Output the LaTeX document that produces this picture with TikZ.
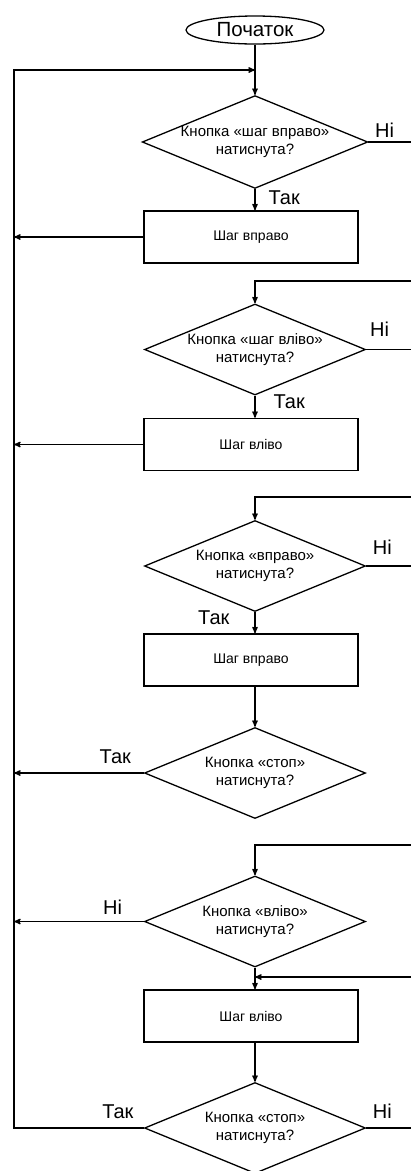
\documentclass[tikz,border=0pt]{standalone}
\usepackage{fontspec}
\setmainfont{Liberation Sans}
\usetikzlibrary{arrows,shapes.geometric}

\begin{document}
\begin{tikzpicture}[x=1pt,y=-1pt,>=stealth',line width=1.3pt]
  \tikzstyle{terminal}=[ellipse,draw,minimum width=138pt,minimum height=28pt,inner sep=0pt,font=\fontsize{20.5}{22}\selectfont]
  \tikzstyle{decision}=[diamond,draw,aspect=2.43,minimum width=221pt,minimum height=91pt,inner sep=0pt,align=center,font=\fontsize{15}{18.3}\selectfont]
  \tikzstyle{block}=[rectangle,draw,minimum width=214pt,minimum height=52pt,font=\fontsize{14}{16}\selectfont]
  \tikzstyle{lbl}=[font=\fontsize{20}{22}\selectfont,inner sep=2pt]

  \useasboundingbox (0,0) rectangle (411,1171);

  \node[terminal] (start) at (255,30)    {Початок};
  \node[decision] (d1)    at (255,142)   {Кнопка «шаг вправо»\\натиснута?};
  \node[block]    (b1)    at (251,237)   {Шаг вправо};
  \node[decision] (d2)    at (255,349.5) {Кнопка «шаг вліво»\\натиснута?};
  \node[block]    (b2)    at (251,444.5) {Шаг вліво};
  \node[decision] (d3)    at (255,566)   {Кнопка «вправо»\\натиснута?};
  \node[block]    (b3)    at (251,660)   {Шаг вправо};
  \node[decision] (d4)    at (255,773)   {Кнопка «стоп»\\натиснута?};
  \node[decision] (d5)    at (255,921.5) {Кнопка «вліво»\\натиснута?};
  \node[block]    (b4)    at (251,1016)  {Шаг вліво};
  \node[decision] (d6)    at (255,1128)  {Кнопка «стоп»\\натиснута?};

  \coordinate (ltop)  at (14,70);
  \coordinate (redge) at (411,0);
  \coordinate (r2)    at (411,281);
  \coordinate (r3)    at (411,497);
  \coordinate (r5)    at (411,845);
  \coordinate (r4)    at (411,977);

  % main loop on the left
  \draw[->] (start) -- (d1);
  \draw[->] (d6.west) -- node[lbl,above=6.8pt,pos=.2] {Так} (d6.west -| ltop) -- (ltop) -- (ltop -| start);

  % step right
  \draw[->] (d1.south) -- node[lbl,right=11pt,pos=.4] {Так} (d1.south |- b1.north);
  \draw (d1.east) -- node[lbl,above=1.8pt,pos=.38] {Ні} (d1.east -| redge);
  \draw[->] (b1.west) -- (b1.west -| ltop);

  % step left
  \draw[->] (r2) -| (d2.north);
  \draw[->] (d2.south) -- node[lbl,right=16pt,pos=.26] {Так} (d2.south |- b2.north);
  \draw (d2.east) -- node[lbl,above=10.3pt,pos=.3] {Ні} (d2.east -| redge);
  \draw[->] (b2.west) -- (b2.west -| ltop);

  % move right until stop
  \draw[->] (r3) -| (d3.north);
  \draw[->] (d3.south) -- node[lbl,left=23pt,pos=.25] {Так} (d3.south |- b3.north);
  \draw (d3.east) -- node[lbl,above=8.8pt,pos=.36] {Ні} (d3.east -| redge);
  \draw[->] (b3.south -| d4.north) -- (d4.north);
  \draw[->] (d4.west) -- node[lbl,above=6.8pt,pos=.22] {Так} (d4.west -| ltop);

  % move left until stop
  \draw[->] (r5) -| (d5.north);
  \draw[->] (d5.west) -- node[lbl,above=4.8pt,pos=.24] {Ні} (d5.west -| ltop);
  \draw[->] (d5.south) -- (d5.south |- b4.north);
  \draw[->] (r4) -- (r4 -| d5.south);
  \draw[->] (b4.south -| d6.north) -- (d6.north);
  \draw (d6.east) -- node[lbl,above=6.8pt,pos=.36] {Ні} (d6.east -| redge);
\end{tikzpicture}
\end{document}
